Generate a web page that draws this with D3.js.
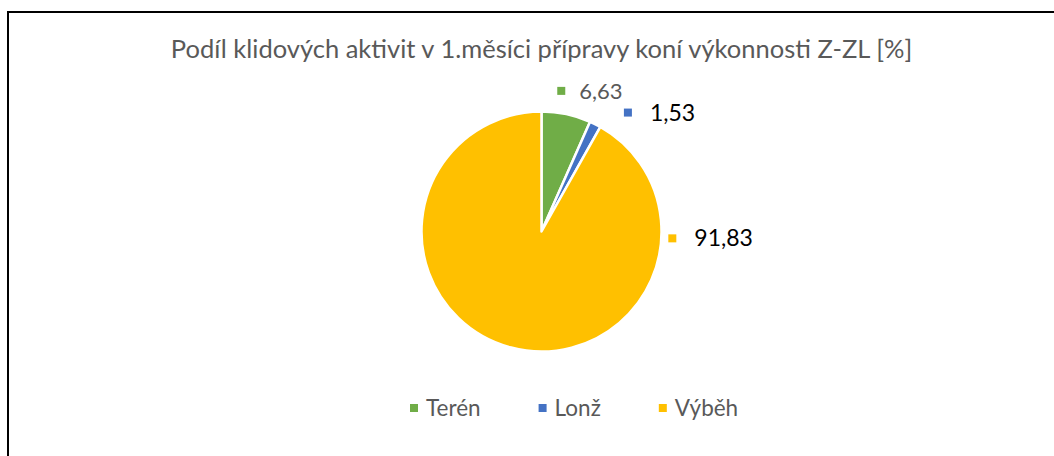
<!DOCTYPE html>
<html>
<head>
<meta charset="utf-8">
<script src="https://cdn.jsdelivr.net/npm/d3@7"></script>
<style>
  html, body { margin: 0; padding: 0; background: #fff; }
  svg { display: block; font-family: Lato, "Open Sans", sans-serif; }
</style>
</head>
<body>
<svg id="chart" width="1054" height="456"></svg>
<script>
// chart data
const categories = ['Terén', 'Lonž', 'Výběh'];
const shares = [6.63, 1.53, 91.83];
const shareLabels = ['6,63', '1,53', '91,83'];
const title = 'Podíl klidových aktivit v 1.měsíci přípravy koní výkonnosti Z-ZL [%]';

const colors = d3.scaleOrdinal()
  .domain(categories)
  .range(['#70ad47', '#4472c4', '#ffc000']);

// where Excel put the data labels (polar, around the pie centre)
const labelSpots = [
  { angle: 8, dist: 142, size: 22, fill: '#595959' },
  { angle: 36, dist: 147, size: 23, fill: '#000' },
  { angle: 93, dist: 131, size: 23, fill: '#000' }
];

const svg = d3.select('#chart');
const cx = 541.5, cy = 231.5, radius = 120;

// frame (right and bottom edges fall outside the picture)
svg.append('rect')
  .attr('x', 8).attr('y', 12)
  .attr('width', 1100).attr('height', 500)
  .attr('fill', '#fff')
  .attr('stroke', '#000')
  .attr('stroke-width', 2);

svg.append('text')
  .attr('x', cx).attr('y', 58)
  .attr('text-anchor', 'middle')
  .attr('fill', '#595959')
  .attr('font-size', 25.5)
  .text(title);

const pie = d3.pie().sort(null).value(d => d);
const arcs = pie(shares);
const arc = d3.arc().innerRadius(0).outerRadius(radius);

const g = svg.append('g').attr('transform', `translate(${cx},${cy})`);

g.selectAll('path.slice')
  .data(arcs)
  .join('path')
  .attr('class', 'slice')
  .attr('d', arc)
  .attr('fill', (d, i) => colors(categories[i]))
  .attr('stroke', '#fff')
  .attr('stroke-width', 2.5)
  .attr('stroke-linejoin', 'round');

// data labels with legend key
const labels = g.selectAll('g.lbl')
  .data(arcs)
  .join('g')
  .attr('class', 'lbl')
  .attr('transform', (d, i) => {
    const s = labelSpots[i];
    const a = s.angle * Math.PI / 180;
    const p = d3.arc().innerRadius(s.dist).outerRadius(s.dist)
      .centroid({ startAngle: a, endAngle: a });
    return `translate(${p[0]},${p[1]})`;
  });

labels.append('rect')
  .attr('x', -4).attr('y', -4)
  .attr('width', 8).attr('height', 8)
  .attr('fill', (d, i) => colors(categories[i]));

labels.append('text')
  .attr('x', (d, i) => i === 0 ? 18 : 22)
  .attr('dy', '0.35em')
  .attr('font-size', (d, i) => labelSpots[i].size)
  .attr('fill', (d, i) => labelSpots[i].fill)
  .text((d, i) => shareLabels[i]);

// legend
const legend = svg.append('g').attr('transform', 'translate(410,408)');
let lx = 0;
categories.forEach((c, i) => {
  const item = legend.append('g').attr('transform', `translate(${lx},0)`);
  item.append('rect')
    .attr('x', 0).attr('y', -4)
    .attr('width', 8).attr('height', 8)
    .attr('fill', colors(c));
  const t = item.append('text')
    .attr('x', 16).attr('dy', '0.35em')
    .attr('font-size', 22.5)
    .attr('fill', '#595959')
    .text(c);
  lx += 16 + t.node().getComputedTextLength() + 58;
});
</script>
</body>
</html>
